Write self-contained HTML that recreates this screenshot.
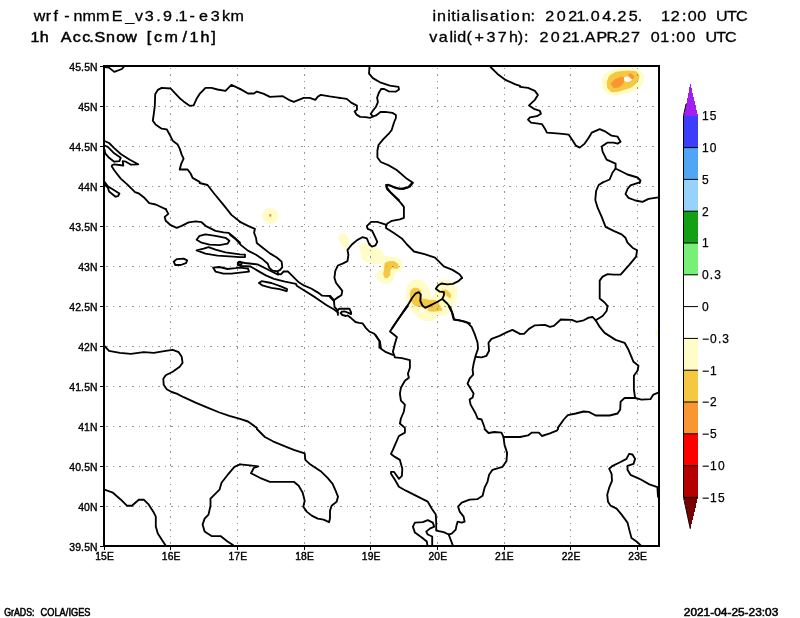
<!DOCTYPE html>
<html lang="en"><head><meta charset="utf-8"><title>wrf-nmmE 1h Acc.Snow</title>
<style>html,body{margin:0;padding:0;background:#fff}svg{display:block}text{font-family:"Liberation Sans", "DejaVu Sans", sans-serif;fill:#000}</style></head><body>
<svg width="800" height="618" viewBox="0 0 800 618">
<rect width="800" height="618" fill="#fff"/>
<defs><clipPath id="c"><rect x="104" y="66" width="555" height="480"/></clipPath></defs>
<g clip-path="url(#c)" stroke-linejoin="round">
<polygon fill="#fffcc8" stroke="#fffcc8" stroke-width="1" points="602,81.9 603.6,75.9 608.6,71 619.6,69 633.5,68.4 640.5,71 643.5,75.9 642.5,82.9 637.5,89.9 627.5,92.9 615.6,95.4 607.6,93.9 603.2,88.9"/>
<polygon fill="#f5c842" stroke="#f5c842" stroke-width="1" points="607.2,81.9 609.6,75.9 615.6,72.3 627.5,71 636.5,71.9 639.1,75.9 637.5,81.9 631.5,86.9 619.6,90.9 611.6,91.9 607.6,87.9"/>
<polygon fill="#fa9632" stroke="#fa9632" stroke-width="1" points="611.2,83.5 614.6,79.9 621.6,76.9 623.6,77.9 623.2,82.9 619.6,86.9 613.6,87.5"/>
<polygon fill="#fa9632" stroke="#fa9632" stroke-width="1" points="628.5,74.3 631.5,73.9 633.9,76.9 632.5,78.9 629.5,76.9"/>
<polygon fill="#ffffff" stroke="#ffffff" stroke-width="1" points="624.6,77.5 628.5,76.9 631.5,79.9 628.5,81.5 625,80.9"/>
<polygon fill="#fffcc8" stroke="#fffcc8" stroke-width="1" points="277.8,215.9 277.3,218.8 275.6,221.2 273.2,222.9 270.3,223.4 267.4,222.9 264.9,221.2 263.3,218.8 262.7,215.9 263.3,213 264.9,210.5 267.4,208.9 270.3,208.3 273.2,208.9 275.6,210.5 277.3,213"/>
<polygon fill="#fa9632" stroke="#fa9632" stroke-width="1" points="269.7,214.5 270.9,214.5 270.9,216.3 269.7,216.3"/>
<polygon fill="#fffcc8" stroke="#fffcc8" stroke-width="1" points="338.8,237.5 340.5,234 344.9,233.7 348,237.5 348.4,244.5 346.6,248 344,247.1 340.5,242.8"/>
<polygon fill="#fffcc8" stroke="#fffcc8" stroke-width="1" points="359.6,245.6 362.1,244.1 366.1,243.1 368.1,245.6 370.1,247.6 375.2,247.6 379.2,249.6 382.2,252.6 384.2,255.6 389.2,257.1 395.2,257.1 399.2,259.1 401.8,263.1 401.8,268.2 399.2,271.2 395.2,272.2 393.7,276.2 393.2,280.2 389.2,283.2 384.2,283.2 379.2,281.2 376.7,277.7 376.7,273.2 379.2,270.7 383.2,269.2 382.2,264.1 379.2,263.1 374.1,263.6 369.1,262.6 364.1,260.6 361.6,257.6 361.1,252.1"/>
<polygon fill="#f5c842" stroke="#f5c842" stroke-width="1" points="385.2,263.1 389.2,261.6 394.2,261.6 397.7,264.1 398.2,268.2 395.2,268.2 392.2,267.6 390,270.2 389.7,275.2 387.7,277.7 384.7,277.2 383.7,274.2 384.7,268.2"/>
<polygon fill="#ffffff" stroke="#ffffff" stroke-width="1" points="367.8,256.8 369.4,256.8 369.4,258.9 367.8,258.9"/>
<polygon fill="#fffcc8" stroke="#fffcc8" stroke-width="1" points="408.1,285.6 410.6,281.9 414.6,280.3 420.3,279.9 424.4,282.3 427.2,286.4 429.3,291.3 430.9,296.1 433.3,296.5 435,293.7 435.8,289.6 437.4,284.8 439,281.5 442.3,279.9 448.8,280.3 452.8,283.1 456.1,288 456.9,292.9 456.1,299.4 453.7,304.3 452,307.5 450.4,310.8 448.8,313.2 443.9,314 439,315.7 435,318.9 430.9,320.5 425.2,320.5 420.3,318.5 416.3,314.8 411.4,310.8 408.1,305.9 406.5,299.4 406.5,291.3"/>
<polygon fill="#f5c842" stroke="#f5c842" stroke-width="1" points="410.2,293.7 411.4,290 414.2,288 418.3,288.8 420.7,290.9 421.3,295.3 421,299 425.2,299.4 429.3,300.4 435,300.4 438.2,301.8 439,304.7 440.7,307.5 441.9,310 439,310.8 432.5,311.2 428.5,310.8 428,309.1 430.9,307.5 426.8,307.1 422.8,306.7 419.5,306.3 415.4,305.9 413,303.5 411,299.4"/>
<polygon fill="#f5c842" stroke="#f5c842" stroke-width="1" points="441.5,290.4 445.5,290 448.8,292.1 450.8,294.9 450,297.8 448,296.5 445.5,294.1 442.3,292.5"/>
<polygon fill="#ffffff" stroke="#ffffff" stroke-width="1" points="419.1,309.6 422,309.1 424.4,310 423.6,311.2 420.3,311.4"/>
<polygon fill="#fffcc8" stroke="#fffcc8" stroke-width="1" points="655.8,330.9 658.4,329.9 658.4,336.9 656.2,335.9"/>
</g>
<g stroke="#969696" stroke-width="1" stroke-dasharray="2 5 1 5" fill="none" shape-rendering="crispEdges">
<line x1="170.5" y1="66" x2="170.5" y2="546" stroke-dashoffset="5.1"/>
<line x1="237.5" y1="66" x2="237.5" y2="546" stroke-dashoffset="5.1"/>
<line x1="304.5" y1="66" x2="304.5" y2="546" stroke-dashoffset="5.1"/>
<line x1="370.5" y1="66" x2="370.5" y2="546" stroke-dashoffset="5.1"/>
<line x1="437.5" y1="66" x2="437.5" y2="546" stroke-dashoffset="5.1"/>
<line x1="504.5" y1="66" x2="504.5" y2="546" stroke-dashoffset="5.1"/>
<line x1="570.5" y1="66" x2="570.5" y2="546" stroke-dashoffset="5.1"/>
<line x1="637.5" y1="66" x2="637.5" y2="546" stroke-dashoffset="5.1"/>
<line x1="104" y1="106.5" x2="659" y2="106.5" stroke-dashoffset="11.3"/>
<line x1="104" y1="146.5" x2="659" y2="146.5" stroke-dashoffset="11.3"/>
<line x1="104" y1="186.5" x2="659" y2="186.5" stroke-dashoffset="11.3"/>
<line x1="104" y1="226.5" x2="659" y2="226.5" stroke-dashoffset="11.3"/>
<line x1="104" y1="266.5" x2="659" y2="266.5" stroke-dashoffset="11.3"/>
<line x1="104" y1="306.5" x2="659" y2="306.5" stroke-dashoffset="11.3"/>
<line x1="104" y1="346.5" x2="659" y2="346.5" stroke-dashoffset="11.3"/>
<line x1="104" y1="386.5" x2="659" y2="386.5" stroke-dashoffset="11.3"/>
<line x1="104" y1="426.5" x2="659" y2="426.5" stroke-dashoffset="11.3"/>
<line x1="104" y1="466.5" x2="659" y2="466.5" stroke-dashoffset="11.3"/>
<line x1="104" y1="506.5" x2="659" y2="506.5" stroke-dashoffset="11.3"/>
</g>
<g clip-path="url(#c)" fill="none" stroke="#000" stroke-width="1.85" stroke-linejoin="round" stroke-linecap="round">
<path d="M240.0 88.9 L231.4 84.9 L225.5 90.9 L217.5 89.5 L211.5 87.9 L205.5 87.9 L199.6 93.9 L196.6 98.8 L193.6 105.4 L189.6 105.8 L183.6 101.4 L179.7 98.2 L174.7 92.9 L170.7 88.5 L161.7 87.9 L157.8 89.9 L155.2 94.3 L154.8 105.8 L153.8 113.8 L152.8 120.7 L155.8 124.7 L161.7 128.7 L166.7 129.3 L169.7 134.7 L172.7 140.7 L177.7 144.6 L179.7 148.6 L181.7 154.6 L183.6 158.6 L181.3 163.6 L179.7 169.5 L187.6 169.5 L190.6 173.5 L192.6 177.9 L199.6 181.9"/>
<path d="M104.4 67.0 L109.0 67.6 L114.3 71.9 L121.9 69.0 L123.9 66.6"/>
<path d="M104.5 141.0 L109.1 143.0 L114.2 148.1 L120.7 154.0 L129.8 159.8 L138.2 164.3 L131.1 164.7 L125.9 161.7 L122.7 161.1 L123.3 165.6 L119.4 165.0 L114.2 164.3 L112.3 165.0 L111.7 166.3 L114.2 170.2 L120.7 178.6 L127.2 184.4 L135.0 192.2 L138.9 193.5 L144.0 197.4 L149.2 203.2 L155.7 204.5 L166.1 209.3"/>
<path d="M104.5 145.5 L107.8 146.8 L114.2 153.3 L120.7 157.8 L119.4 161.1 L114.2 161.7 L109.1 157.8 L105.2 153.3 L104.5 149.4"/>
<path d="M104.5 181.8 L107.8 186.3 L114.2 190.2 L119.4 193.5 L118.1 196.1 L115.5 196.7 L109.1 191.5 L107.8 187.6 L104.5 184.4"/>
<path d="M240.0 88.9 L248.0 93.5 L253.9 93.5 L256.9 91.5 L263.9 93.9 L269.9 96.8 L282.8 96.2 L288.8 99.8 L293.8 101.8 L303.7 97.8 L309.7 97.8 L315.3 99.8 L317.7 96.8 L320.7 94.9 L329.6 96.4 L339.6 97.8"/>
<path d="M369.5 66.3 L369.0 73.6 L372.9 78.1 L380.8 82.7 L389.9 85.6 L398.5 86.8 L399.0 89.5 L395.6 91.7 L388.8 91.3 L384.2 89.0 L381.3 88.8 L379.0 92.4 L377.1 97.7 L377.9 102.2 L376.0 106.7 L373.0 110.5 L370.7 113.9 L373.0 116.5 L376.0 115.4 L380.5 112.0 L385.0 111.9 L392.5 112.9 L395.9 115.0 L395.9 118.0 L394.0 122.5 L391.7 130.0 L388.8 133.7 L383.1 139.4 L378.5 145.0 L377.4 150.7 L377.4 157.5 L380.8 162.0 L388.8 165.4 L396.7 170.0 L405.8 177.9 L412.6 182.4 L408.0 187.4 L400.1 188.8 L393.3 187.0 L387.6 184.7 L386.5 187.0 L391.0 192.7 L399.0 200.1"/>
<path d="M339.6 97.8 L346.8 98.9 L351.2 102.6 L356.9 105.6 L356.9 109.8 L354.6 111.6 L356.5 114.6 L360.2 116.9 L365.5 117.2 L370.0 117.8 L373.0 116.5"/>
<path d="M490.5 67.0 L497.5 73.9 L505.5 79.9 L515.4 84.3 L520.0 85.9"/>
<path d="M520.0 86.9 L528.0 87.9 L534.9 90.9 L537.9 94.9 L534.9 99.8 L529.0 105.4 L533.9 108.8 L539.9 110.8 L540.9 113.8 L536.9 116.2 L530.0 117.4 L528.0 119.7 L531.0 122.7 L541.9 124.1 L544.9 128.7 L546.9 132.7 L559.8 133.7 L568.8 134.7 L572.8 140.7 L575.8 145.6 L579.7 147.6 L584.7 143.6 L588.7 137.7 L591.7 132.7 L599.7 129.1 L605.6 131.7 L611.6 135.7 L617.6 136.7 L620.6 141.7 L617.6 143.6 L613.6 142.6 L607.6 142.6 L601.7 146.6 L602.6 151.6 L606.6 159.6 L615.6 163.6 L615.6 168.5 L627.5 174.5 L637.5 177.5 L640.5 180.5 L639.5 183.1"/>
<path d="M615.6 168.5 L612.6 172.5 L609.6 179.5 L602.6 182.5"/>
<path d="M165.7 208.9 L168.3 213.9 L164.7 216.9 L165.7 220.8 L170.7 225.2 L176.7 227.8 L181.7 225.8 L188.6 222.4 L195.6 221.4 L201.6 222.2 L205.5 225.8 L215.5 230.8 L223.5 232.4 L228.5 232.8 L233.4 236.8 L240.0 242.7"/>
<path d="M199.6 183.0 L207.5 185.0 L214.5 194.0 L223.5 204.9 L231.4 214.9 L240.0 221.8"/>
<path d="M196.6 239.8 L199.6 235.8 L205.5 234.4 L215.5 235.8 L225.5 237.8 L229.4 240.8 L227.5 243.7 L219.5 245.1 L209.5 244.7 L201.6 242.7Z"/>
<path d="M196.6 250.3 L203.6 248.7 L208.5 247.1 L215.5 249.7 L225.5 252.3 L240.0 254.3 L245.0 254.7 L245.0 257.1 L240.0 257.1 L229.4 256.3 L217.5 255.7 L205.5 253.7Z"/>
<path d="M173.7 261.7 L176.7 259.1 L183.6 258.7 L187.2 260.3 L186.0 263.1 L180.7 265.0 L175.3 265.0Z"/>
<path d="M213.1 267.6 L219.5 267.0 L227.5 269.0 L235.4 268.2 L240.0 267.6 L248.0 268.6 L249.0 271.6 L240.0 272.6 L231.4 273.6 L223.5 273.6 L215.5 271.6Z"/>
<path d="M240.0 261.7 L237.8 262.7 L237.8 265.0 L240.0 265.6 L241.8 263.7Z"/>
<path d="M230.0 234.8 L235.5 238.9 L241.0 245.1 L247.9 250.6 L256.1 254.8 L263.0 259.6 L267.8 263.7 L269.2 267.8 L272.6 270.6 L277.5 271.3 L278.1 274.0 L280.9 274.3 L283.6 271.5 L287.8 271.3 L293.3 276.8 L298.8 282.3 L304.3 285.7 L311.2 288.5 L318.0 292.6 L322.2 295.7 L330.4 296.0 L333.9 300.2 L334.5 307.0 L337.3 309.8 L338.0 315.0"/>
<path d="M240.0 221.8 L248.0 225.8 L254.9 228.8 L254.1 232.8 L256.1 238.3 L256.8 243.1 L263.0 247.9 L269.9 253.4 L276.8 257.5 L281.6 261.6 L282.3 267.1 L280.2 269.9 L277.5 271.3"/>
<path d="M278.1 274.7 L272.6 272.0 L265.8 268.5 L257.5 264.4 L245.1 263.0 L238.9 261.9 L238.5 263.8 L241.0 266.0 L250.6 266.5 L257.5 270.6 L265.8 275.4 L274.0 278.8 L285.0 281.6 L296.0 283.9 L296.7 285.7 L304.3 290.5 L315.3 297.4 L326.3 305.0 L334.5 309.8 L338.0 312.5"/>
<path d="M258.9 283.0 L261.6 281.2 L271.3 283.0 L280.9 286.4 L287.1 289.1 L286.7 291.2 L279.5 289.1 L271.3 287.8 L263.0 285.7Z"/>
<path d="M330.0 297.0 L333.5 300.5 L337.0 297.9 L341.4 295.3 L342.3 290.9 L339.6 287.4 L336.1 283.0 L334.4 277.8 L335.3 270.8 L337.9 265.5 L343.1 263.4 L347.5 261.1 L348.4 255.0 L347.5 249.8 L351.9 244.5 L357.1 240.1 L362.4 237.2 L366.8 238.4 L369.4 244.5 L372.0 246.6 L375.5 245.4 L377.3 241.9 L374.6 235.8 L372.0 230.5 L367.6 228.8 L366.8 226.1 L371.1 221.8 L377.3 221.8 L385.1 224.4"/>
<path d="M386.4 224.9 L386.0 227.9 L393.9 233.1 L401.8 238.4 L407.0 244.5 L414.0 251.5 L424.5 254.1 L435.0 257.6 L443.8 266.4 L452.5 269.9 L459.5 274.3 L462.1 277.8"/>
<path d="M462.1 277.8 L458.5 281.1 L452.8 283.9 L447.2 284.3 L441.5 283.5 L438.2 285.2 L435.8 288.8 L439.8 291.7 L443.9 292.1 L443.9 295.3 L442.3 299.0 L447.2 303.5 L450.4 307.5 L452.8 314.0 L454.1 319.3 L458.5 320.1 L465.0 321.7 L470.0 323.3"/>
<path d="M442.3 299.0 L436.6 302.2 L430.9 305.1 L425.2 307.9 L422.4 305.5 L420.3 301.0 L420.7 294.5 L418.7 292.1 L415.4 293.7 L412.2 297.8 L408.9 303.5 L404.9 309.1 L400.0 316.5 L392.1 328.2"/>
<path d="M338.0 310.2 L339.3 308.7 L349.4 308.7 L351.1 312.4 L351.1 314.1 L348.5 312.8 L345.0 311.5 L341.9 311.7 L340.6 313.1 L342.4 315.0 L345.9 316.0 L347.6 315.4 L351.1 318.1 L355.5 322.0 L359.0 322.9 L362.5 323.3 L366.0 328.1 L369.5 331.6 L373.9 333.5 L375.4 334.9 L379.5 340.9"/>
<path d="M412.9 183.0 L409.9 186.6 L403.9 189.0 L396.9 188.4 L390.0 185.4 L386.0 185.0 L387.0 189.0 L393.9 195.9 L399.9 201.9 L403.9 206.9 L403.9 217.9 L399.9 219.4 L391.9 220.8 L387.0 223.8 L386.0 225.8"/>
<path d="M602.6 182.4 L598.7 185.0 L596.1 191.0 L595.3 199.9 L597.7 207.9 L601.7 216.9 L605.6 226.8 L613.6 230.8 L621.6 234.4 L625.5 237.8 L627.5 242.7 L632.5 247.7 L637.1 250.3 L636.1 256.7 L629.5 264.7 L620.6 274.6 L613.6 274.6 L607.6 274.2 L602.6 276.6 L599.7 280.6 L599.7 298.5 L604.6 302.5 L607.6 306.1"/>
<path d="M639.5 182.4 L630.5 185.4 L627.5 189.0 L625.5 194.0 L628.5 197.9 L635.5 200.5 L642.5 201.9 L648.5 198.9 L658.4 197.3"/>
<path d="M104.4 345.8 L109.0 350.8 L119.9 352.8 L130.9 353.8 L143.8 352.2 L153.8 352.8 L165.7 350.8 L172.7 349.8 L178.7 352.2 L181.7 356.8 L182.6 362.8 L179.7 366.7 L172.7 371.7 L165.7 375.3 L163.3 378.7 L163.7 384.7 L166.7 389.2 L171.7 392.0 L176.7 393.6 L183.6 397.2 L195.6 402.6 L207.5 407.6 L219.5 412.5 L229.4 415.9 L240.0 418.9 L248.0 421.5 L256.9 427.9"/>
<path d="M375.4 334.9 L379.4 340.9 L379.4 347.8"/>
<path d="M407.9 306.0 L401.9 314.0 L394.9 323.9 L390.0 331.5 L396.9 336.9 L394.9 343.8 L392.9 351.8 L394.9 357.4 L401.9 358.2 L409.9 360.2 L409.9 367.7 L407.9 373.7 L408.9 377.7 L404.9 380.7 L400.9 387.7 L399.9 393.6 L400.9 400.6 L404.9 404.6 L403.9 411.5 L400.9 418.5 L399.9 423.5 L404.9 427.9"/>
<path d="M380.0 341.8 L381.0 348.8 L386.0 352.2 L392.9 354.8"/>
<path d="M448.7 306.0 L451.7 312.0 L453.7 319.5 L461.7 320.9 L467.6 322.9 L471.6 326.9 L474.6 333.9 L477.6 342.8 L478.0 348.8 L475.6 355.8 L473.6 363.8 L472.6 369.7 L473.2 374.7 L469.6 378.7 L467.6 383.7 L470.6 388.6 L473.6 393.6 L472.6 397.6 L469.6 399.6 L470.6 404.6 L475.6 413.5 L477.6 418.5 L481.6 419.5 L484.6 427.5"/>
<path d="M476.0 356.8 L481.6 357.4 L486.5 355.8 L489.1 350.8 L488.5 342.8 L491.5 338.9 L499.5 335.9 L507.5 331.9 L512.4 329.9 L520.0 333.9"/>
<path d="M520.0 333.9 L524.0 333.9 L529.0 328.9 L534.9 325.3 L544.9 324.9 L549.9 326.9 L553.9 325.9 L560.8 319.5 L571.8 319.9 L576.8 321.9 L583.7 320.3 L588.7 317.6 L592.7 317.0 L595.7 320.3"/>
<path d="M607.6 306.0 L606.6 311.0 L602.6 316.0 L595.7 320.3"/>
<path d="M595.7 320.3 L599.7 326.9 L604.6 332.9 L615.6 339.9 L624.6 342.8 L628.5 349.8 L633.5 361.8 L638.5 365.7 L637.5 370.7 L633.9 375.7 L633.9 389.6 L635.1 398.0"/>
<path d="M635.1 398.0 L641.5 399.6 L650.4 399.2 L653.4 394.6 L658.4 392.6"/>
<path d="M635.1 398.0 L624.6 398.0 L620.6 401.6 L620.2 409.6 L617.6 413.5 L609.6 415.5 L595.7 415.5 L588.7 411.9 L583.7 411.5 L575.8 413.5 L567.8 415.1 L563.8 419.5 L557.8 427.9"/>
<path d="M104.4 489.7 L112.9 492.7 L120.9 499.7 L126.9 505.7 L131.9 505.7 L138.8 499.7 L143.8 499.7 L148.8 504.7 L153.8 512.6 L155.8 516.6 L155.8 526.6 L157.8 533.6 L161.7 539.5 L165.3 545.1"/>
<path d="M240.0 464.4 L234.4 466.8 L228.5 473.8 L221.5 482.8 L219.5 489.7 L215.5 493.7 L210.5 498.7 L210.5 505.7 L208.5 514.6 L204.6 518.6 L202.6 524.6 L204.6 531.6 L211.5 536.1 L220.5 536.1 L227.5 541.5 L233.0 545.1"/>
<path d="M256.9 429.0 L264.9 437.0 L272.9 441.3 L283.8 445.9 L293.8 449.9 L304.7 453.3 L305.3 459.9 L309.7 463.9 L320.7 471.2 L327.6 477.8 L332.6 483.8 L335.6 490.7 L338.0 496.7 L336.6 501.7 L331.6 505.7 L330.0 510.7 L330.0 518.6 L329.0 522.2 L323.6 519.6 L317.7 518.6 L311.7 515.6 L306.7 511.6 L303.3 506.7 L304.7 500.7 L302.7 492.7 L298.7 485.8 L293.8 481.8 L269.9 481.8 L259.9 477.8 L251.0 473.2 L253.9 467.8 L258.3 466.4 L250.0 465.4 L240.0 464.4"/>
<path d="M404.9 429.0 L404.9 432.6 L398.9 436.0 L395.9 442.9 L392.9 449.9 L391.0 453.9 L394.9 456.9 L399.9 459.9 L402.3 468.8 L401.9 475.8 L398.9 478.8 L393.9 471.8 L391.0 471.8 L391.0 473.8 L394.9 479.8 L398.9 486.8 L405.9 490.7 L417.8 496.7 L427.8 501.7 L431.8 508.7 L435.8 514.6 L436.2 522.6 L436.2 530.6 L443.7 532.2 L448.7 534.5 L452.7 545.1"/>
<path d="M484.6 429.0 L488.5 433.0 L494.5 432.0 L501.5 432.6 L503.5 437.0 L504.5 444.9 L507.1 452.9 L506.5 460.9 L502.5 466.8 L492.5 469.8 L489.1 474.8 L487.5 481.8 L484.6 487.7 L482.6 495.7 L477.6 499.1 L469.6 499.7 L461.7 502.7 L458.1 506.7 L459.7 511.6 L463.6 516.6 L464.6 521.6 L461.7 522.6 L457.7 521.6 L456.7 524.6 L455.7 529.6 L451.7 533.6 L448.7 534.5"/>
<path d="M503.5 437.0 L520.0 437.0"/>
<path d="M427.4 545.1 L426.8 541.5 L421.8 537.5 L414.9 532.6 L412.9 526.6 L414.9 522.6 L422.8 522.2 L427.8 520.2 L432.8 522.6 L434.2 526.6 L429.8 528.6 L426.2 531.6 L427.8 534.5 L432.2 536.5 L432.2 545.1"/>
<path d="M520.0 437.0 L528.0 435.4 L531.9 432.6 L538.9 432.6 L541.9 436.0 L549.9 433.4 L556.8 430.6 L558.2 429.0"/>
<path d="M658.0 496.7 L657.4 487.2 L649.4 484.4 L639.5 478.8 L630.5 474.8 L627.5 469.8 L627.5 465.8 L633.5 463.9 L635.1 458.9 L632.5 454.5 L629.1 453.9 L626.5 458.9 L619.6 462.5 L612.6 465.8 L609.2 468.8 L611.6 473.8 L612.0 480.8 L609.2 487.7 L607.2 494.7 L608.0 501.7 L610.6 505.7 L616.6 508.7 L621.6 514.6 L627.5 522.6 L629.5 530.6 L631.5 538.1 L636.5 541.5 L640.5 545.1"/>
</g>
<rect x="104" y="66" width="555" height="480" fill="none" stroke="#000" stroke-width="2" shape-rendering="crispEdges"/>
<g stroke="#000" stroke-width="1" shape-rendering="crispEdges">
<line x1="104.5" y1="546" x2="104.5" y2="550"/>
<line x1="170.5" y1="546" x2="170.5" y2="550"/>
<line x1="237.5" y1="546" x2="237.5" y2="550"/>
<line x1="304.5" y1="546" x2="304.5" y2="550"/>
<line x1="370.5" y1="546" x2="370.5" y2="550"/>
<line x1="437.5" y1="546" x2="437.5" y2="550"/>
<line x1="504.5" y1="546" x2="504.5" y2="550"/>
<line x1="570.5" y1="546" x2="570.5" y2="550"/>
<line x1="637.5" y1="546" x2="637.5" y2="550"/>
<line x1="100" y1="66.5" x2="104" y2="66.5"/>
<line x1="100" y1="106.5" x2="104" y2="106.5"/>
<line x1="100" y1="146.5" x2="104" y2="146.5"/>
<line x1="100" y1="186.5" x2="104" y2="186.5"/>
<line x1="100" y1="226.5" x2="104" y2="226.5"/>
<line x1="100" y1="266.5" x2="104" y2="266.5"/>
<line x1="100" y1="306.5" x2="104" y2="306.5"/>
<line x1="100" y1="346.5" x2="104" y2="346.5"/>
<line x1="100" y1="386.5" x2="104" y2="386.5"/>
<line x1="100" y1="426.5" x2="104" y2="426.5"/>
<line x1="100" y1="466.5" x2="104" y2="466.5"/>
<line x1="100" y1="506.5" x2="104" y2="506.5"/>
<line x1="100" y1="546.5" x2="104" y2="546.5"/>
</g>
<g font-size="10.3" stroke="#000" stroke-width="0.4" letter-spacing="0.15">
<text x="104.6" y="559.6" text-anchor="middle">15E</text>
<text x="171.24" y="559.6" text-anchor="middle">16E</text>
<text x="237.88" y="559.6" text-anchor="middle">17E</text>
<text x="304.52" y="559.6" text-anchor="middle">18E</text>
<text x="371.16" y="559.6" text-anchor="middle">19E</text>
<text x="437.8" y="559.6" text-anchor="middle">20E</text>
<text x="504.44" y="559.6" text-anchor="middle">21E</text>
<text x="571.08" y="559.6" text-anchor="middle">22E</text>
<text x="637.72" y="559.6" text-anchor="middle">23E</text>
<text transform="translate(97.7 70.6) scale(0.89 1)" font-size="11.7" text-anchor="end">45.5N</text>
<text transform="translate(97.7 110.6) scale(0.89 1)" font-size="11.7" text-anchor="end">45N</text>
<text transform="translate(97.7 150.6) scale(0.89 1)" font-size="11.7" text-anchor="end">44.5N</text>
<text transform="translate(97.7 190.6) scale(0.89 1)" font-size="11.7" text-anchor="end">44N</text>
<text transform="translate(97.7 230.6) scale(0.89 1)" font-size="11.7" text-anchor="end">43.5N</text>
<text transform="translate(97.7 270.6) scale(0.89 1)" font-size="11.7" text-anchor="end">43N</text>
<text transform="translate(97.7 310.6) scale(0.89 1)" font-size="11.7" text-anchor="end">42.5N</text>
<text transform="translate(97.7 350.6) scale(0.89 1)" font-size="11.7" text-anchor="end">42N</text>
<text transform="translate(97.7 390.6) scale(0.89 1)" font-size="11.7" text-anchor="end">41.5N</text>
<text transform="translate(97.7 430.6) scale(0.89 1)" font-size="11.7" text-anchor="end">41N</text>
<text transform="translate(97.7 470.6) scale(0.89 1)" font-size="11.7" text-anchor="end">40.5N</text>
<text transform="translate(97.7 510.6) scale(0.89 1)" font-size="11.7" text-anchor="end">40N</text>
<text transform="translate(97.7 550.6) scale(0.89 1)" font-size="11.7" text-anchor="end">39.5N</text>
</g>
<g shape-rendering="crispEdges">
<polygon points="684,115.8 690.3,83.4 698,115.8" fill="#a01ef0"/>
<rect x="684" y="115.8" width="14" height="31.8" fill="#3c3cfa"/>
<rect x="684" y="147.6" width="14" height="31.8" fill="#50a5f5"/>
<rect x="684" y="179.4" width="14" height="31.8" fill="#96d2fa"/>
<rect x="684" y="211.2" width="14" height="31.8" fill="#14a014"/>
<rect x="684" y="243" width="14" height="31.8" fill="#78f078"/>
<rect x="684" y="274.8" width="14" height="31.8" fill="#ffffff"/>
<rect x="684" y="306.6" width="14" height="31.8" fill="#ffffff"/>
<rect x="684" y="338.4" width="14" height="31.8" fill="#fffcc8"/>
<rect x="684" y="370.2" width="14" height="31.8" fill="#f5c842"/>
<rect x="684" y="402" width="14" height="31.8" fill="#fa9632"/>
<rect x="684" y="433.8" width="14" height="31.8" fill="#ff0000"/>
<rect x="684" y="465.6" width="14" height="31.8" fill="#b40000"/>
<polygon points="684,497.4 690.3,528.9 698,497.4" fill="#780000"/>
</g>
<g stroke="#000" stroke-width="1" fill="none">
<path d="M686 104 L683.5 115.8 L683.5 497.4 L690.3 528.9"/>
<line x1="684" y1="147.6" x2="698" y2="147.6"/>
<line x1="684" y1="179.4" x2="698" y2="179.4"/>
<line x1="684" y1="211.2" x2="698" y2="211.2"/>
<line x1="684" y1="243" x2="698" y2="243"/>
<line x1="684" y1="274.8" x2="698" y2="274.8"/>
<line x1="684" y1="306.6" x2="698" y2="306.6"/>
<line x1="684" y1="338.4" x2="698" y2="338.4"/>
<line x1="684" y1="370.2" x2="698" y2="370.2"/>
<line x1="684" y1="402" x2="698" y2="402"/>
<line x1="684" y1="433.8" x2="698" y2="433.8"/>
<line x1="684" y1="465.6" x2="698" y2="465.6"/>
<line x1="684" y1="497.4" x2="698" y2="497.4"/>
</g>
<g font-size="12" stroke="#000" stroke-width="0.25" letter-spacing="1.1">
<text x="702" y="120.2">15</text>
<text x="702" y="152">10</text>
<text x="702" y="183.8">5</text>
<text x="702" y="215.6">2</text>
<text x="702" y="247.4">1</text>
<text x="702" y="279.2">0.3</text>
<text x="702" y="311">0</text>
<text x="702" y="342.8">−0.3</text>
<text x="702" y="374.6">−1</text>
<text x="702" y="406.4">−2</text>
<text x="702" y="438.2">−5</text>
<text x="702" y="470">−10</text>
<text x="702" y="501.8">−15</text>
</g>
<g font-size="14" stroke="#000" stroke-width="0.3"><text transform="scale(1.15 1)" y="21.2" x="29.4 39.7 46.6 55.9 63.9 71.8 83.5 97.2 108.9 117.4 125.8 135.9 141.8 151.9 155.2 164.8 173.1 183.2 193.0 200.5" xml:space="preserve" style="white-space:pre">wrf-nmmE_v3.9.1-e3km</text></g>
<g font-size="14" stroke="#000" stroke-width="0.45"><text transform="scale(1.15 1)" y="42.4" x="26.5 34.5 43.3 52.8 63.3 71.6 77.6 82.1 92.2 101.2 109.0 119.8 127.7 134.0 143.1 158.7 164.9 174.4 183.8" xml:space="preserve" style="white-space:pre">1h Acc.Snow [cm/1h]</text></g>
<g font-size="14" stroke="#000" stroke-width="0.3">
<text transform="scale(1.15 1)" y="20.9" x="376.1 380.0 388.9 392.4 397.0 401.1 410.4 413.9 417.6 425.8 434.8 440.0 444.2 453.7 461.3 466.7 474.1 484.2 494.1 501.3 508.6 513.6 523.7 532.1 537.0 546.8 554.6 560.6 565.9 574.8 583.3 593.0 598.0 606.4 615.4 622.6 632.2 639.9" xml:space="preserve" style="white-space:pre">initialisation: 2021.04.25.  12:00 UTC</text>
<text transform="scale(1.15 1)" y="42.5" x="373.2 381.6 390.9 394.1 397.6 405.7 412.7 423.1 432.9 442.6 450.3 455.6 461.5 469.2 478.9 489.0 496.4 504.3 508.5 518.8 527.4 536.8 540.1 548.7 557.2 565.8 574.2 583.5 588.1 597.0 606.7 613.4 622.9 630.5" xml:space="preserve" style="white-space:pre">valid(+37h): 2021.APR.27 01:00 UTC</text>
</g>
<g font-size="10" stroke="#000" stroke-width="0.55"><text transform="translate(4.2 615.7) scale(0.882 1)" textLength="34.4" lengthAdjust="spacing">GrADS:</text> <text transform="translate(40.6 615.7) scale(0.926 1)" textLength="53.9" lengthAdjust="spacing">COLA/IGES</text></g>
<g font-size="10.3" stroke="#000" stroke-width="0.5"><text transform="translate(683.8 615.8) scale(1.154 1)" textLength="81.9" lengthAdjust="spacing">2021-04-25-23:03</text></g>
</svg></body></html>
